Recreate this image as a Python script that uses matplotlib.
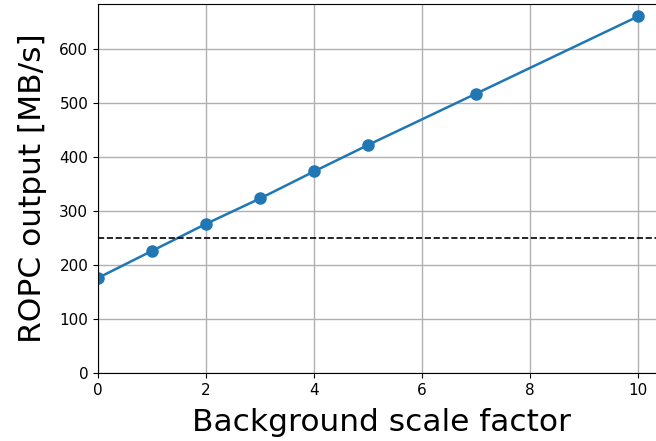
import matplotlib
matplotlib.use("Agg")
import matplotlib.pyplot as plt

scale_factor = [0, 1, 2, 3, 4, 5, 7, 10]
ropc_output = [176, 226, 276, 323, 373, 422, 517, 660]
threshold = 250

fig = plt.figure(figsize=(6.56, 4.41), dpi=100)
W, H = 656, 441
ax = fig.add_axes([98 / W, (441 - 373) / H, 567 / W, 369 / H])
ax.plot(scale_factor, ropc_output, color="#1f77b4", marker="o", markersize=8, linewidth=1.8)
ax.axhline(threshold, color="black", linestyle="--", linewidth=1.2)
ax.set_xlim(0, 10.5)
ax.set_ylim(0, 683)
ax.set_xticks([0, 2, 4, 6, 8, 10])
ax.set_yticks([0, 100, 200, 300, 400, 500, 600])
ax.grid(True, color="#b0b0b0", linewidth=1)
ax.set_axisbelow(True)
ax.tick_params(labelsize=11)
ax.set_xlabel("Background scale factor", fontsize=22.5, labelpad=7.5)
ax.set_ylabel("ROPC output [MB/s]", fontsize=22.5, labelpad=9)
fig.savefig("out.png", dpi=100)
